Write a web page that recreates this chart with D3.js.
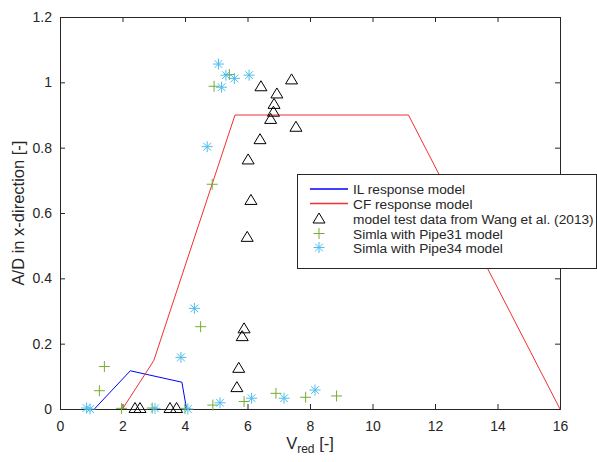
<!DOCTYPE html>
<html>
<head>
<meta charset="utf-8">
<script src="https://cdn.jsdelivr.net/npm/d3@7"></script>
<style>
  html, body { margin: 0; padding: 0; background: #fff; }
  svg { display: block; font-family: "Liberation Sans", Arial, sans-serif; }
</style>
</head>
<body>
<svg id="chart" width="597" height="462"></svg>
<script>
// Response models
const ilX = [1.1, 2.25, 3.9, 4.05];
const ilY = [0, 0.117, 0.082, 0];
const cfX = [2, 3, 5.6, 11.15, 16];
const cfY = [0, 0.148, 0.9, 0.9, 0];

// Model test data (Wang et al. 2013)
const wangX = [7.41, 6.43, 6.94, 6.85, 6.83, 6.74, 7.55, 6.4, 6.02, 6.11, 5.99, 5.89, 5.83, 5.72, 5.66, 2.4, 2.56, 3.52, 3.73];
const wangY = [1.009, 0.988, 0.966, 0.934, 0.91, 0.888, 0.864, 0.826, 0.764, 0.64, 0.527, 0.247, 0.223, 0.126, 0.067, 0.003, 0.003, 0.003, 0.003];

// Simla, Pipe31 model
const p31X = [1.26, 1.42, 1.97, 2.95, 4.0, 4.5, 4.87, 4.93, 5.42, 4.89, 5.89, 6.91, 7.86, 8.85];
const p31Y = [0.056, 0.13, 0.002, 0.003, 0.002, 0.252, 0.688, 0.988, 1.024, 0.012, 0.023, 0.048, 0.036, 0.04];

// Simla, Pipe34 model
const p34X = [0.85, 0.96, 3.04, 4.09, 3.87, 4.3, 4.71, 5.07, 5.31, 5.17, 5.58, 6.05, 5.12, 6.13, 7.17, 8.16];
const p34Y = [0.003, 0, 0.002, 0, 0.158, 0.308, 0.803, 1.056, 1.022, 0.985, 1.012, 1.022, 0.019, 0.033, 0.033, 0.058];

const xTicks = [0, 2, 4, 6, 8, 10, 12, 14, 16];
const yTicks = [0, 0.2, 0.4, 0.6, 0.8, 1, 1.2];
const legendLabels = [
  "IL response model",
  "CF response model",
  "model test data from Wang et al. (2013)",
  "Simla with Pipe31 model",
  "Simla with Pipe34 model"
];

const COLORS = { axis: "#262626", il: "#0000ff", cf: "#f03030", wang: "#000000", p31: "#77ac30", p34: "#4dbeee" };

const svg = d3.select("#chart");
const L = 60, R = 560, T = 17, B = 409;
const x = d3.scaleLinear().domain([0, 16]).range([L, R]);
const y = d3.scaleLinear().domain([0, 1.2]).range([B, T]);

const g = svg.append("g");

// axes box with inward ticks on all four sides
const fmt = d => d3.format("~g")(d);
const axB = g.append("g").attr("transform", `translate(0,${B})`)
  .call(d3.axisBottom(x).tickValues(xTicks).tickSize(-5).tickPadding(12).tickFormat(fmt));
const axT = g.append("g").attr("transform", `translate(0,${T})`)
  .call(d3.axisTop(x).tickValues(xTicks).tickSize(-5).tickFormat(""));
const axL = g.append("g").attr("transform", `translate(${L},0)`)
  .call(d3.axisLeft(y).tickValues(yTicks).tickSize(-5).tickPadding(8).tickFormat(fmt));
const axR = g.append("g").attr("transform", `translate(${R},0)`)
  .call(d3.axisRight(y).tickValues(yTicks).tickSize(-5).tickFormat(""));
[axB, axT, axL, axR].forEach(a => {
  a.select(".domain").attr("stroke", COLORS.axis).attr("stroke-width", 1);
  a.selectAll(".tick line").attr("stroke", COLORS.axis).attr("stroke-width", 1);
  a.selectAll(".tick text").attr("fill", COLORS.axis).attr("font-size", 14)
    .attr("font-family", "Liberation Sans, Arial, sans-serif");
});

// axis titles
const xt = svg.append("text").attr("x", (L + R) / 2).attr("y", 449)
  .attr("text-anchor", "middle").attr("fill", COLORS.axis).attr("font-size", 16.5);
xt.append("tspan").text("V");
xt.append("tspan").attr("font-size", 12).attr("dy", 4).text("red");
xt.append("tspan").attr("dy", -4).text(" [-]");

svg.append("text").attr("transform", `translate(24,${(T + B) / 2}) rotate(-90)`)
  .attr("text-anchor", "middle").attr("fill", COLORS.axis).attr("font-size", 16.5)
  .text("A/D in x-direction [-]");

// model lines
const line = d3.line().x(d => x(d[0])).y(d => y(d[1]));
g.append("path").datum(d3.zip(ilX, ilY)).attr("d", line)
  .attr("fill", "none").attr("stroke", COLORS.il).attr("stroke-width", 1);
g.append("path").datum(d3.zip(cfX, cfY)).attr("d", line)
  .attr("fill", "none").attr("stroke", COLORS.cf).attr("stroke-width", 1);

// marker shapes
const triPath = "M0,-5.5L6,4.5L-6,4.5Z";
const plusPath = "M-5.5,0L5.5,0M0,-5.5L0,5.5";
const starPath = "M-5.5,0L5.5,0M0,-5.5L0,5.5M-3.9,-3.9L3.9,3.9M-3.9,3.9L3.9,-3.9";

function markers(xs, ys, path, color) {
  g.append("g").selectAll("path").data(d3.zip(xs, ys)).join("path")
    .attr("transform", d => `translate(${x(d[0])},${y(d[1])})`)
    .attr("d", path).attr("fill", "none").attr("stroke", color).attr("stroke-width", 1);
}
markers(wangX, wangY, triPath, COLORS.wang);
markers(p31X, p31Y, plusPath, COLORS.p31);
markers(p34X, p34Y, starPath, COLORS.p34);

// legend
const lg = svg.append("g");
lg.append("rect").attr("x", 297.5).attr("y", 174.5).attr("width", 299).attr("height", 94)
  .attr("fill", "#fff").attr("stroke", COLORS.axis).attr("stroke-width", 1);
const rowY = [189, 203.5, 218.5, 233.5, 247.5];
const rowColor = [COLORS.il, COLORS.cf, COLORS.wang, COLORS.p31, COLORS.p34];
const rowShape = [null, null, triPath, plusPath, starPath];
legendLabels.forEach((label, i) => {
  const yy = rowY[i];
  if (!rowShape[i]) {
    lg.append("path").attr("d", `M310,${yy}L348,${yy}`)
      .attr("fill", "none").attr("stroke", rowColor[i]).attr("stroke-width", 1.3);
  } else {
    lg.append("path").attr("transform", `translate(319,${yy})`).attr("d", rowShape[i])
      .attr("fill", "none").attr("stroke", rowColor[i]).attr("stroke-width", 1);
  }
  lg.append("text").attr("x", 353).attr("y", yy + 5).attr("font-size", 13.7)
    .attr("fill", COLORS.axis).text(label);
});
</script>
</body>
</html>
